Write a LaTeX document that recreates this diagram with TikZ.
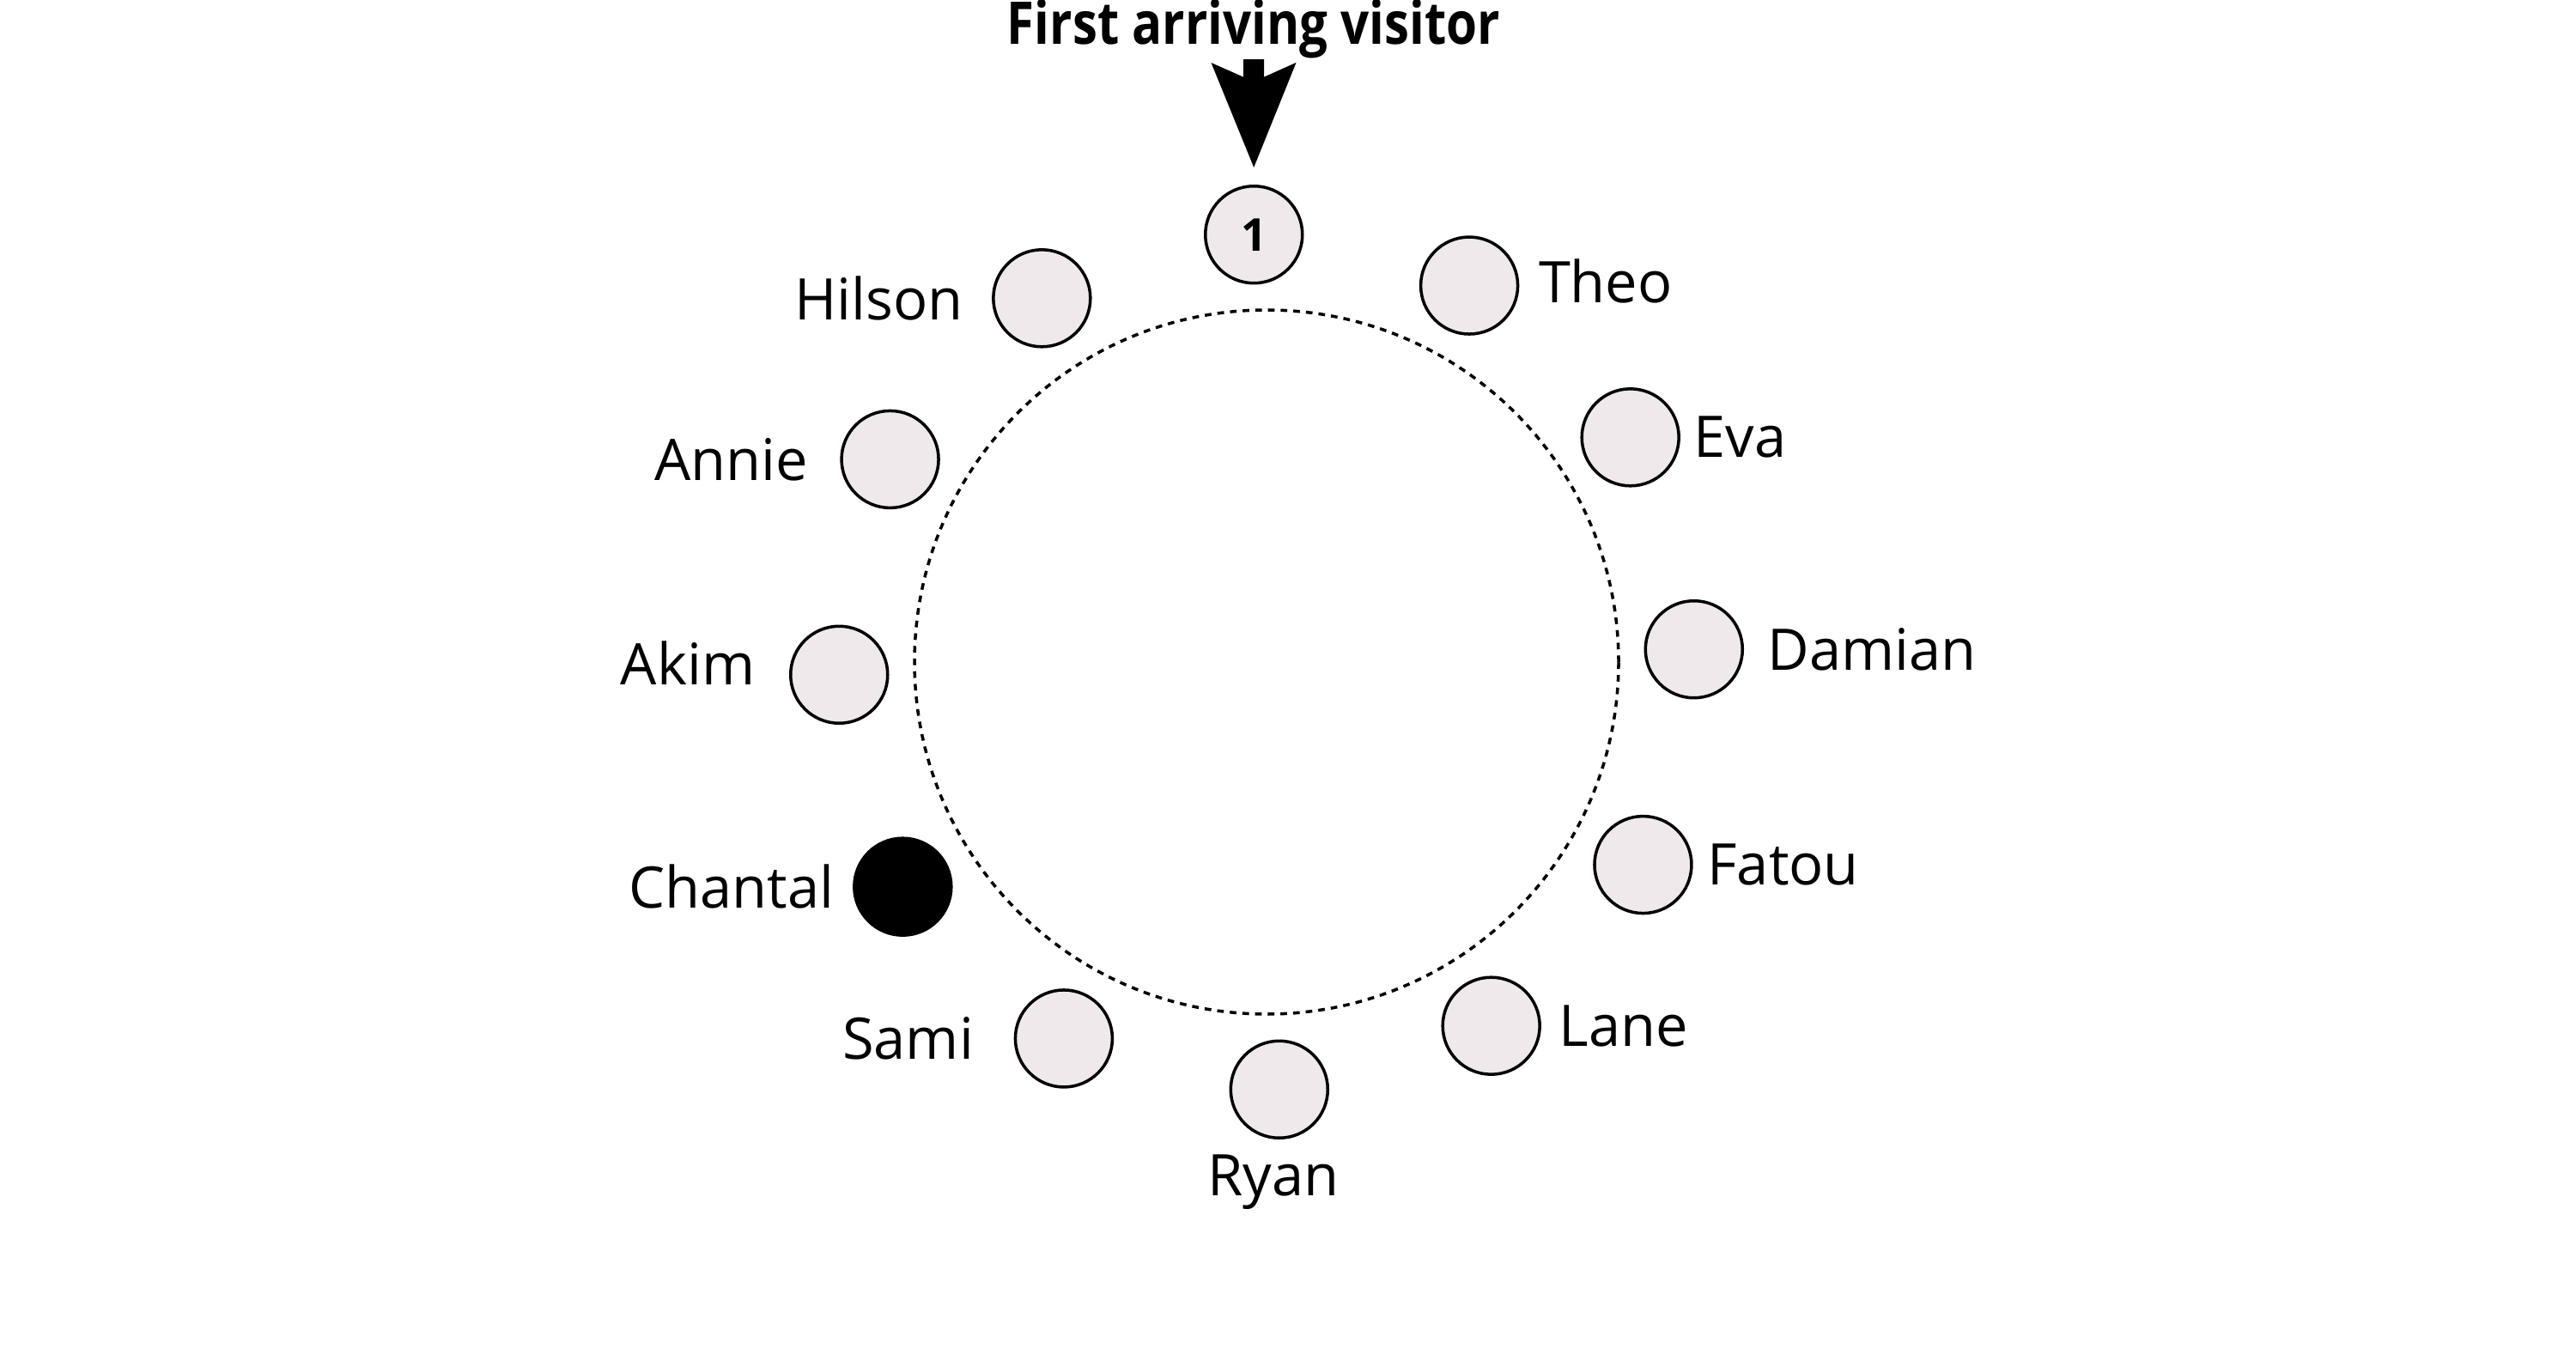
\documentclass[tikz,border=0pt]{standalone}
\usepackage{fontspec}
\setmainfont{Open Sans}
\newfontfamily\titlefont{Open Sans}[FakeStretch=0.85]
\usepackage{tikz}
\usetikzlibrary{arrows.meta, positioning}
\definecolor{seatfill}{RGB}{239,233,235}

\begin{document}
\begin{tikzpicture}[font=\fontsize{19}{23}\selectfont,
    seat/.style={circle, draw, line width=1pt, fill=seatfill, minimum size=1.13cm, inner sep=0pt},
    guest/.style={inner sep=0pt}]
    \useasboundingbox (0,0) rectangle (30,15.84);
    \node[font=\titlefont\fontsize{19.5}{23}\selectfont\bfseries, inner sep=0pt, anchor=base] (title) at (14.60,15.32) {First arriving visitor};
    \begin{scope}[shift={(14.75,8.13)}]
        \draw[line width=1pt, dash pattern=on 2.2pt off 2pt] (0,0) circle (4.1);
        \node[seat] (first) at (91.7:4.98) {\fontsize{15}{18}\selectfont\bfseries 1};
        \node[seat] (theo) at (61.7:4.98) {};
        \node[seat] (eva) at (31.7:4.98) {};
        \node[seat] (damian) at (1.7:4.98) {};
        \node[seat] (fatou) at (-28.3:4.98) {};
        \node[seat] (lane) at (-58.3:4.98) {};
        \node[seat] (ryan) at (-88.3:4.98) {};
        \node[seat] (sami) at (-118.3:4.98) {};
        \node[seat, fill=black] (chantal) at (-148.3:4.98) {};
        \node[seat] (akim) at (-178.3:4.98) {};
        \node[seat] (annie) at (151.7:4.98) {};
        \node[seat] (hilson) at (121.7:4.98) {};
    \end{scope}
    % names round the table
    \node[guest, right=0.22cm of theo, yshift=0.05cm] (theo-name) {Theo};
    \node[guest, right=0.15cm of eva] (eva-name) {Eva};
    \node[guest, right=0.27cm of damian] (damian-name) {Damian};
    \node[guest, right=0.16cm of fatou] (fatou-name) {Fatou};
    \node[guest, right=0.20cm of lane] (lane-name) {Lane};
    \node[guest, below=0.17cm of ryan, xshift=-0.07cm] (ryan-name) {Ryan};
    \node[guest, left=0.46cm of sami] (sami-name) {Sami};
    \node[guest, left=0.21cm of chantal] (chantal-name) {Chantal};
    \node[guest, left=0.39cm of akim, yshift=0.14cm] (akim-name) {Akim};
    \node[guest, left=0.37cm of annie] (annie-name) {Annie};
    \node[guest, left=0.33cm of hilson] (hilson-name) {Hilson};
    \draw[line width=0.24cm, -{Stealth[length=1.22cm, width=0.99cm, inset=0.22cm, line width=0pt]}, shorten >=0.2cm] (title.south) -- (first.north);
\end{tikzpicture}
\end{document}
